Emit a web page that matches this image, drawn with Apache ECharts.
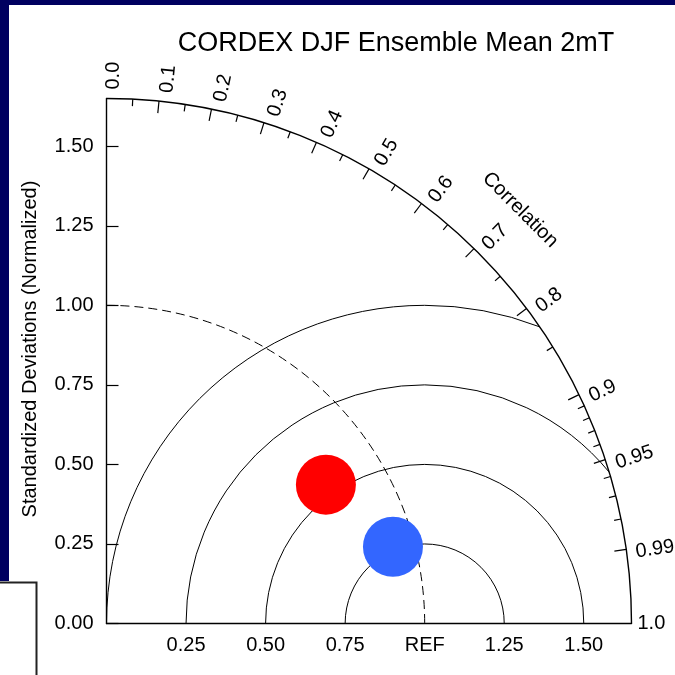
<!DOCTYPE html>
<html>
<head>
<meta charset="utf-8">
<script src="https://cdn.jsdelivr.net/npm/echarts@6/dist/echarts.min.js"></script>
<style>
  html, body { margin: 0; padding: 0; background: #ffffff; }
  #chart { width: 675px; height: 675px; }
</style>
</head>
<body>
<div id="chart"></div>
<script>
// Taylor diagram: normalized standard deviation vs. correlation
const titleText = 'CORDEX DJF Ensemble Mean 2mT';
const stdAxisName = 'Standardized Deviations (Normalized)';
const corrAxisName = 'Correlation';

const stdMax = 1.65;
const refStd = 1.0;

const stdTicks = [0, 0.25, 0.5, 0.75, 1.0, 1.25, 1.5];
const stdTickLabels = ['0.00', '0.25', '0.50', '0.75', '1.00', '1.25', '1.50'];
const refTicks = [0.25, 0.5, 0.75, 1.0, 1.25, 1.5];
const refTickLabels = ['0.25', '0.50', '0.75', 'REF', '1.25', '1.50'];

const corrMajor = [0.1, 0.2, 0.3, 0.4, 0.5, 0.6, 0.7, 0.8, 0.9, 0.95, 0.99];
const corrMinor = [0.05, 0.15, 0.25, 0.35, 0.45, 0.55, 0.65, 0.75, 0.85,
                   0.91, 0.92, 0.93, 0.94, 0.96, 0.97, 0.98];
const corrLabelValues = [0.0, 0.1, 0.2, 0.3, 0.4, 0.5, 0.6, 0.7, 0.8, 0.9, 0.95, 0.99, 1.0];
const corrLabelTexts = ['0.0', '0.1', '0.2', '0.3', '0.4', '0.5', '0.6', '0.7', '0.8', '0.9', '0.95', '0.99', '1.0'];

const rmsRadii = [0.25, 0.5, 0.75, 1.0];

const modelStd = [0.816, 0.932];
const modelCorr = [0.845, 0.966];
const modelColors = ['#ff0000', '#3366ff'];

const FONT = '"Liberation Sans", Arial, Helvetica, sans-serif';
const NAVY = '#000060';
const LABEL_SIZE = 20;

const chart = echarts.init(document.getElementById('chart'), null, { renderer: 'canvas' });

function pixelRadius(api, r) {
  return api.coord([r, 0])[0] - api.coord([0, 0])[0];
}

// centred RMS-difference arcs around the reference point, clipped at the outer rim
function renderRms(params, api) {
  const R = rmsRadii[params.dataIndex];
  const c = api.coord([refStd, 0]);
  let end = 2 * Math.PI;
  if (refStd + R > stdMax) {
    const xi = (stdMax * stdMax + refStd * refStd - R * R) / (2 * refStd);
    const yi = Math.sqrt(stdMax * stdMax - xi * xi);
    end = 2 * Math.PI - Math.atan2(yi, xi - refStd);
  }
  return {
    type: 'arc',
    shape: { cx: c[0], cy: c[1], r: pixelRadius(api, R), startAngle: Math.PI, endAngle: end, clockwise: true },
    style: { stroke: '#000', lineWidth: 1, fill: null }
  };
}

// outer rim, reference-std arc, correlation ticks and labels
function renderFrame(params, api) {
  const o = api.coord([0, 0]);
  const rOut = pixelRadius(api, stdMax);
  const children = [];
  children.push({
    type: 'arc',
    shape: { cx: o[0], cy: o[1], r: rOut, startAngle: -Math.PI / 2, endAngle: 0, clockwise: true },
    style: { stroke: '#000', lineWidth: 1.4, fill: null }
  });
  children.push({
    type: 'arc',
    shape: { cx: o[0], cy: o[1], r: pixelRadius(api, refStd), startAngle: -Math.PI / 2, endAngle: 0, clockwise: true },
    style: { stroke: '#000', lineWidth: 1, fill: null, lineDash: [9, 5] }
  });
  function tick(c, len) {
    const s = Math.sqrt(1 - c * c);
    children.push({
      type: 'line',
      shape: {
        x1: o[0] + rOut * c, y1: o[1] - rOut * s,
        x2: o[0] + (rOut - len) * c, y2: o[1] - (rOut - len) * s
      },
      style: { stroke: '#000', lineWidth: 1.2 }
    });
  }
  corrMajor.forEach(c => tick(c, 12));
  corrMinor.forEach(c => tick(c, 7));
  corrLabelValues.forEach((c, i) => {
    const s = Math.sqrt(1 - c * c);
    const phi = Math.acos(c);
    const deg = phi * 180 / Math.PI;
    const d = rOut + 6 + 3 * Math.min(1, deg / 8);
    const shift = 7 * Math.min(1, deg / 15);
    children.push({
      type: 'text',
      x: o[0] + d * c + shift * s,
      y: o[1] - d * s + shift * c,
      rotation: phi,
      style: {
        text: corrLabelTexts[i], fill: '#000', fontSize: LABEL_SIZE, fontFamily: FONT,
        align: 'left', verticalAlign: 'middle'
      }
    });
  });
  const rT = rOut + 60;
  const a = Math.PI / 4;
  children.push({
    type: 'text',
    x: o[0] + rT * Math.cos(a),
    y: o[1] - rT * Math.sin(a),
    rotation: -a,
    style: {
      text: corrAxisName, fill: '#000', fontSize: LABEL_SIZE, fontFamily: FONT,
      align: 'center', verticalAlign: 'middle'
    }
  });
  return { type: 'group', children: children };
}

const option = {
  animation: false,
  backgroundColor: '#ffffff',
  title: {
    text: titleText,
    left: 391,
    top: 25,
    textAlign: 'center',
    textStyle: { fontFamily: FONT, fontSize: 27, fontWeight: 'normal', color: '#000' }
  },
  grid: { left: 106.5, top: 98.5, width: 525, height: 525, containLabel: false },
  xAxis: {
    type: 'value', min: 0, max: stdMax,
    axisLine: { show: true, lineStyle: { color: '#000', width: 1.4 } },
    axisTick: { show: false },
    splitLine: { show: false },
    axisLabel: {
      customValues: refTicks,
      margin: 12,
      color: '#000', fontSize: LABEL_SIZE, fontFamily: FONT,
      formatter: v => {
        const i = refTicks.findIndex(t => Math.abs(t - v) < 1e-6);
        return i >= 0 ? refTickLabels[i] : '';
      }
    }
  },
  yAxis: {
    type: 'value', min: 0, max: stdMax,
    name: stdAxisName,
    nameLocation: 'middle',
    nameGap: 66,
    nameRotate: 90,
    nameTextStyle: { fontFamily: FONT, fontSize: LABEL_SIZE, color: '#000', padding: [0, 0, 0, 24] },
    axisLine: { show: true, lineStyle: { color: '#000', width: 1.4 } },
    axisTick: { show: true, inside: true, length: 12, customValues: stdTicks, lineStyle: { color: '#000', width: 1.2 } },
    splitLine: { show: false },
    axisLabel: {
      customValues: stdTicks,
      margin: 13,
      color: '#000', fontSize: LABEL_SIZE, fontFamily: FONT,
      formatter: v => {
        const i = stdTicks.findIndex(t => Math.abs(t - v) < 1e-6);
        return i >= 0 ? stdTickLabels[i] : '';
      }
    }
  },
  graphic: [
    { type: 'rect', shape: { x: 0, y: 0, width: 675, height: 5 }, style: { fill: NAVY }, silent: true },
    { type: 'rect', shape: { x: 0, y: 0, width: 9, height: 581 }, style: { fill: NAVY }, silent: true },
    { type: 'polyline', shape: { points: [[0, 582.5], [36.5, 582.5], [36.5, 675]] },
      style: { stroke: '#222', lineWidth: 2, fill: null }, silent: true }
  ],
  series: [
    {
      type: 'custom', name: 'rms', coordinateSystem: 'cartesian2d', silent: true, z: 2,
      data: rmsRadii.map(r => [refStd, 0]),
      renderItem: renderRms
    },
    {
      type: 'custom', name: 'frame', coordinateSystem: 'cartesian2d', silent: true, z: 3, clip: false,
      data: [[0, 0]],
      renderItem: renderFrame
    },
    {
      type: 'scatter', name: 'models', z: 5,
      symbol: 'circle', symbolSize: 60,
      data: modelStd.map((s, i) => ({
        value: [s * modelCorr[i], s * Math.sqrt(1 - modelCorr[i] * modelCorr[i])],
        itemStyle: { color: modelColors[i], opacity: 1 }
      }))
    }
  ]
};

chart.setOption(option);
</script>
</body>
</html>
